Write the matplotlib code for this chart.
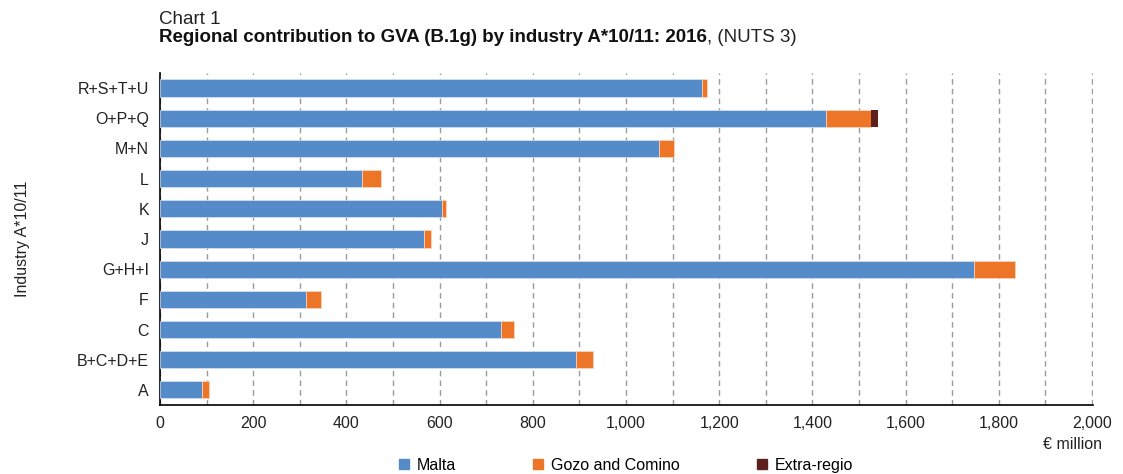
import matplotlib.pyplot as plt
from matplotlib.patches import Patch
import numpy as np

plt.rcParams['font.family'] = ['Liberation Sans', 'DejaVu Sans']

# industries, bottom to top
industries = ['A', 'B+C+D+E', 'C', 'F', 'G+H+I', 'J', 'K', 'L', 'M+N', 'O+P+Q', 'R+S+T+U']
malta = [89, 893, 731, 314, 1747, 567, 605, 434, 1070, 1429, 1163]
gozo = [16, 36, 28, 32, 87, 14, 8, 41, 33, 97, 10]
extra = [0, 0, 0, 0, 0, 0, 0, 0, 0, 15, 0]

c_malta = '#568BC9'
c_gozo = '#EC7527'
c_extra = '#5E1F1F'
txt = '#222222'
fs = 11.5

fig = plt.figure(figsize=(11.23, 4.74), dpi=100)
ax = fig.add_axes([0.1425, 0.1456, 0.8308, 0.7004])

y = np.arange(len(industries))
malta = np.array(malta)
gozo = np.array(gozo)
extra = np.array(extra)

h = 0.57
ax.barh(y, malta, height=h, color=c_malta, edgecolor='#d8e3f2', linewidth=0.5, zorder=3)
ax.barh(y, gozo, left=malta, height=h, color=c_gozo, edgecolor='#f8d9c4', linewidth=0.5, zorder=3)
ax.barh(y, extra, left=malta + gozo, height=h, color=c_extra, linewidth=0, zorder=3)

ax.set_xlim(0, 2002)
ax.set_ylim(-0.5, len(industries) - 0.5)
ax.set_xticks(np.arange(0, 2001, 200))
ax.set_xticklabels([f'{v:,}' for v in range(0, 2001, 200)])
ax.set_xticks(np.arange(0, 2001, 100), minor=True)
ax.set_yticks(y)
ax.set_yticklabels(industries)
ax.tick_params(axis='both', length=0, labelsize=fs, colors=txt, pad=8)
ax.tick_params(axis='x', which='minor', length=0)
ax.grid(axis='x', which='both', color='#9a9a9a', linestyle=(0, (4, 3)), linewidth=1.0, zorder=0)

for s in ['top', 'right']:
    ax.spines[s].set_visible(False)
for s in ['left', 'bottom']:
    ax.spines[s].set_color('black')
    ax.spines[s].set_linewidth(1.2)

ax.set_ylabel('Industry A*10/11', fontsize=fs, color=txt, labelpad=34)

# title, bold part followed by normal part
fig.text(0.1415, 0.958, 'Chart 1', fontsize=13.5, color=txt, va='center')
t1 = fig.text(0.1415, 0.921, 'Regional contribution to GVA (B.1g) by industry A*10/11: 2016',
              fontsize=13.5, fontweight='bold', color='#111111', va='center')
r = fig.canvas.get_renderer()
bb = t1.get_window_extent(renderer=r)
fig.text(bb.x1 / fig.bbox.width, 0.921, ', (NUTS 3)', fontsize=13.5, color=txt, va='center')

fig.text(0.981, 0.063, '€ million', fontsize=fs, color=txt, ha='right', va='center')

handles = [Patch(color=c_malta, label='Malta'),
           Patch(color=c_gozo, label='Gozo and Comino'),
           Patch(color=c_extra, label='Extra-regio')]
fig.legend(handles=handles, loc='center', bbox_to_anchor=(0.5575, 0.018), ncol=3,
           frameon=False, fontsize=fs, handlelength=0.6, handleheight=0.6,
           handletextpad=0.5, columnspacing=4.85, borderpad=0.1)

fig.savefig('out.png', dpi=100)
